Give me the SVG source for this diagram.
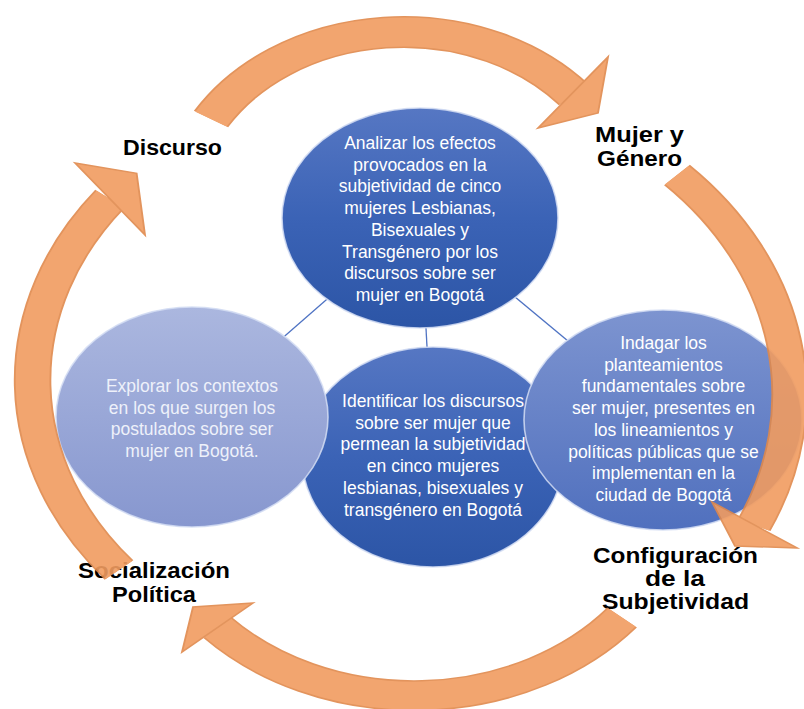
<svg xmlns="http://www.w3.org/2000/svg" width="804" height="709" viewBox="0 0 804 709">
  <defs>
    <linearGradient id="gDark" x1="0" y1="0" x2="0" y2="1">
      <stop offset="0" stop-color="#5677c3"/>
      <stop offset="0.5" stop-color="#3b63b6"/>
      <stop offset="1" stop-color="#2c55a6"/>
    </linearGradient>
    <linearGradient id="gLight" x1="0" y1="0" x2="0" y2="1">
      <stop offset="0" stop-color="#abb7df"/>
      <stop offset="1" stop-color="#8797cf"/>
    </linearGradient>
    <linearGradient id="gMid" x1="0" y1="0" x2="0" y2="1">
      <stop offset="0" stop-color="#7d94d0"/>
      <stop offset="1" stop-color="#5070be"/>
    </linearGradient>
    <style>
      .node { stroke: #d3ddf3; stroke-width: 1.6; stroke-opacity: 0.85; }
      .ct { font-family: "Liberation Sans", Arial, sans-serif; font-size: 17.5px; fill: #ffffff; text-anchor: middle; }
      .ctl { fill: #eef1fa; }
      .lbl { font-family: "Liberation Sans", Arial, sans-serif; font-weight: bold; font-size: 22px; fill: #000000; }
      .conn { stroke: #4f73c3; stroke-width: 1.3; fill: none; }
      .abody { fill: none; stroke: #f19c60; }
      .aedge { fill: none; stroke: #e0894c; }
      .ahead { fill: #f19c60; stroke: #e0894c; stroke-width: 1.5; stroke-linejoin: miter; }
    </style>
  </defs>

  <rect x="0" y="0" width="804" height="709" fill="#ffffff"/>

  <g id="connectors">
    <line class="conn" x1="420" y1="218" x2="192" y2="417"/>
    <line class="conn" x1="420" y1="218" x2="433" y2="457"/>
    <line class="conn" x1="420" y1="218" x2="663" y2="420"/>
  </g>

  <g id="node-identificar">
    <ellipse class="node" cx="433" cy="457" rx="131" ry="110" fill="url(#gDark)"/>
    <text class="ct" x="433" y="407">Identificar los discursos</text>
    <text class="ct" x="433" y="428.7">sobre ser mujer que</text>
    <text class="ct" x="433" y="450.4">permean la subjetividad</text>
    <text class="ct" x="433" y="472.1">en cinco mujeres</text>
    <text class="ct" x="433" y="493.8">lesbianas, bisexuales y</text>
    <text class="ct" x="433" y="515.5">transgénero en Bogotá</text>
  </g>

  <g id="node-explorar">
    <ellipse class="node" cx="192" cy="417" rx="136" ry="110" fill="url(#gLight)"/>
    <text class="ct ctl" x="192" y="392">Explorar los contextos</text>
    <text class="ct ctl" x="192" y="413.7">en los que surgen los</text>
    <text class="ct ctl" x="192" y="435.4">postulados sobre ser</text>
    <text class="ct ctl" x="192" y="457.1">mujer en Bogotá.</text>
  </g>

  <g id="node-indagar">
    <ellipse class="node" cx="663" cy="420" rx="139" ry="110" fill="url(#gMid)"/>
    <text class="ct" x="663.5" y="349">Indagar los</text>
    <text class="ct" x="663.5" y="370.7">planteamientos</text>
    <text class="ct" x="663.5" y="392.4">fundamentales sobre</text>
    <text class="ct" x="663.5" y="414.1">ser mujer, presentes en</text>
    <text class="ct" x="663.5" y="435.8">los lineamientos y</text>
    <text class="ct" x="663.5" y="457.5">políticas públicas que se</text>
    <text class="ct" x="663.5" y="479.2">implementan en la</text>
    <text class="ct" x="663.5" y="500.9">ciudad de Bogotá</text>
  </g>

  <g id="node-analizar">
    <ellipse class="node" cx="420" cy="218" rx="138" ry="110" fill="url(#gDark)"/>
    <text class="ct" x="420" y="149">Analizar los efectos</text>
    <text class="ct" x="420" y="170.7">provocados en la</text>
    <text class="ct" x="420" y="192.4">subjetividad de cinco</text>
    <text class="ct" x="420" y="214.1">mujeres Lesbianas,</text>
    <text class="ct" x="420" y="235.8">Bisexuales y</text>
    <text class="ct" x="420" y="257.5">Transgénero por los</text>
    <text class="ct" x="420" y="279.2">discursos sobre ser</text>
    <text class="ct" x="420" y="300.9">mujer en Bogotá</text>
  </g>

  <g id="label-discurso">
    <text class="lbl" x="123" y="155" textLength="99" lengthAdjust="spacingAndGlyphs">Discurso</text>
  </g>
  <g id="label-mujer-genero">
    <text class="lbl" x="595" y="142" textLength="89" lengthAdjust="spacingAndGlyphs">Mujer y</text>
    <text class="lbl" x="597" y="166" textLength="85" lengthAdjust="spacingAndGlyphs">Género</text>
  </g>
  <g id="label-configuracion">
    <text class="lbl" x="593" y="563" textLength="165" lengthAdjust="spacingAndGlyphs">Configuración</text>
    <text class="lbl" x="645" y="586" textLength="60" lengthAdjust="spacingAndGlyphs">de la</text>
    <text class="lbl" x="602" y="609" textLength="147" lengthAdjust="spacingAndGlyphs">Subjetividad</text>
  </g>
  <g id="label-socializacion">
    <text class="lbl" x="78" y="578" textLength="152" lengthAdjust="spacingAndGlyphs">Socialización</text>
    <text class="lbl" x="112" y="602" textLength="84" lengthAdjust="spacingAndGlyphs">Política</text>
  </g>

  <g id="cycle-arrows" transform="scale(1.25 1)" opacity="0.9">
    <g id="arrow-top">
      <path class="aedge" stroke-width="32" d="M 168.8 119.1 A 179.5 179.5 0 0 1 459.2 94.9"/>
      <path class="abody" stroke-width="29" d="M 168.8 119.1 A 179.5 179.5 0 0 1 459.2 94.9"/>
      <polygon class="ahead" points="486.4,57 478.4,113 430.4,128"/>
    </g>
    <g id="arrow-right">
      <path class="aedge" stroke-width="29" d="M 541.6 175 A 313.2 313.2 0 0 1 603.2 525"/>
      <path class="abody" stroke-width="26" d="M 541.6 175 A 313.2 313.2 0 0 1 603.2 525"/>
      <polygon class="ahead" points="637.6,548 588,546 569.6,502"/>
    </g>
    <g id="arrow-bottom">
      <path class="aedge" stroke-width="31" d="M 497.6 617.5 A 215.8 215.8 0 0 1 174 627.5"/>
      <path class="abody" stroke-width="28" d="M 497.6 617.5 A 215.8 215.8 0 0 1 174 627.5"/>
      <polygon class="ahead" points="202.4,603 154.4,607 145.6,652"/>
    </g>
    <g id="arrow-left">
      <path class="aedge" stroke-width="30" d="M 95.2 570 A 295.5 295.5 0 0 1 88 199"/>
      <path class="abody" stroke-width="27" d="M 95.2 570 A 295.5 295.5 0 0 1 88 199"/>
      <polygon class="ahead" points="60,163 109.3,173.3 116,235"/>
    </g>
  </g>
</svg>
